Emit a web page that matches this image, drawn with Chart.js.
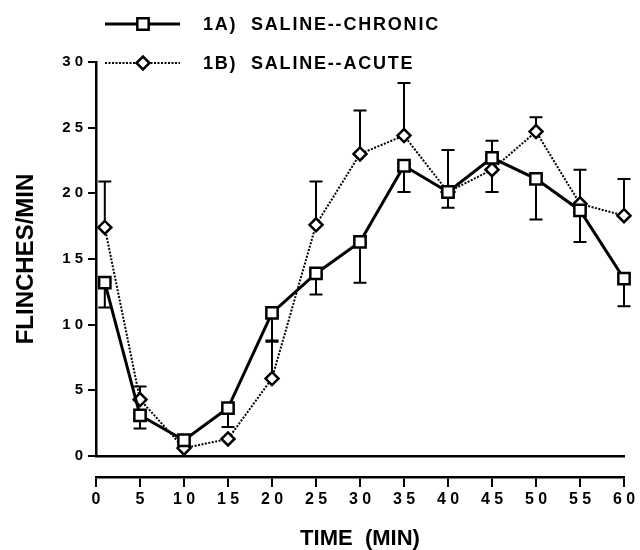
<!DOCTYPE html>
<html>
<head>
<meta charset="utf-8">
<script src="https://cdn.jsdelivr.net/npm/chart.js@4.4.1/dist/chart.umd.min.js"></script>
<style>
html, body { margin: 0; padding: 0; background: #fff; }
#myChartContainer { width: 640px; height: 550px; position: relative; }
</style>
</head>
<body>
<div id="myChartContainer"><canvas id="myChart"></canvas></div>
<script>
// time points (min)
var timeMin = [1, 5, 10, 15, 20, 25, 30, 35, 40, 45, 50, 55, 60];
// 1A) chronic - mean and where its error bar ends
var chronicVal = [13.2, 3.1, 1.2, 3.65, 10.9, 13.9, 16.3, 22.1, 20.1, 22.7, 21.1, 18.7, 13.5];
var chronicErr = [11.3, 2.1, null, 2.2, 8.7, 12.3, 13.2, 20.1, 23.3, 24.0, 18.0, 16.3, 11.4];
// 1B) acute
var acuteVal = [17.4, 4.3, 0.6, 1.3, 5.9, 17.6, 23.0, 24.4, 20.1, 21.8, 24.7, 19.2, 18.3];
var acuteErr = [20.9, 5.3, null, null, 8.8, 20.9, 26.3, 28.4, 18.9, 20.1, 25.8, 21.8, 21.1];
var seriesNames = ['1A)  SALINE--CHRONIC', '1B)  SALINE--ACUTE'];

var fontFamily = '"Liberation Sans", Arial, Helvetica, sans-serif';

function toPoints(vals){
	return timeMin.map(function(t, i){ return {x: t, y: vals[i]}; });
}
// digits spaced out like the original ("3 0")
function spacedLabel(v){
	return String(v).split('').join(' ');
}

// one-sided error bars with a cap
var errorBarPlugin = {
	id: 'errorBars',
	beforeDatasetsDraw: function(chart){
		var ctx = chart.ctx;
		var xs = chart.scales.x, ys = chart.scales.y;
		chart.data.datasets.forEach(function(ds){
			ctx.save();
			ctx.strokeStyle = '#000';
			ctx.lineWidth = 2;
			ds.errEnd.forEach(function(e, i){
				if(e == null) return;
				var px = xs.getPixelForValue(ds.data[i].x);
				var p0 = ys.getPixelForValue(ds.data[i].y);
				var p1 = ys.getPixelForValue(e);
				ctx.beginPath();
				ctx.moveTo(px, p0);
				ctx.lineTo(px, p1);
				ctx.moveTo(px - 6.5, p1);
				ctx.lineTo(px + 6.5, p1);
				ctx.stroke();
			});
			ctx.restore();
		});
	}
};

// legend: line sample with marker, two rows
var legendRows = {
	id: 'legendRows',
	afterDraw: function(chart){
		var ctx = chart.ctx;
		chart.data.datasets.forEach(function(ds, i){
			var y = 24 + i * 39;
			ctx.save();
			ctx.strokeStyle = '#000';
			ctx.lineWidth = ds.borderWidth;
			ctx.setLineDash(ds.borderDash || []);
			ctx.beginPath();
			ctx.moveTo(105, y);
			ctx.lineTo(180, y);
			ctx.stroke();
			ctx.setLineDash([]);
			ctx.fillStyle = '#fff';
			ctx.lineWidth = ds.pointBorderWidth;
			Chart.helpers.drawPoint(ctx, {pointStyle: ds.pointStyle, radius: ds.pointRadius, borderWidth: ds.pointBorderWidth, rotation: 0}, 143, y);
			ctx.fillStyle = '#000';
			ctx.font = 'bold 18px ' + fontFamily;
			ctx.letterSpacing = '1.8px';
			ctx.textBaseline = 'middle';
			ctx.textAlign = 'left';
			ctx.fillText(ds.label, 203, y + 1);
			ctx.restore();
		});
	}
};

var ctx = document.getElementById('myChart').getContext('2d');
var myChart = new Chart(ctx, {
	type: 'line',
	data: {
		datasets: [
			{
				label: seriesNames[0],
				data: toPoints(chronicVal),
				errEnd: chronicErr,
				borderColor: '#000',
				borderWidth: 3,
				pointStyle: 'rect',
				pointRadius: 8,
				pointBackgroundColor: '#fff',
				pointBorderColor: '#000',
				pointBorderWidth: 2.5,
				tension: 0,
				clip: false
			},
			{
				label: seriesNames[1],
				data: toPoints(acuteVal),
				errEnd: acuteErr,
				borderColor: '#000',
				borderWidth: 2,
				borderDash: [2, 1.5],
				pointStyle: 'rectRot',
				pointRadius: 6.5,
				pointBackgroundColor: '#fff',
				pointBorderColor: '#000',
				pointBorderWidth: 2.5,
				tension: 0,
				clip: false
			}
		]
	},
	options: {
		responsive: true,
		maintainAspectRatio: false,
		animation: false,
		layout: { padding: { top: 62, right: 16, bottom: 0, left: 0 } },
		plugins: {
			legend: { display: false },
			tooltip: { enabled: false }
		},
		scales: {
			// baseline at 0, sits on the plot
			x: {
				type: 'linear', position: 'bottom', min: 0, max: 60, weight: 0,
				grid: { display: false },
				ticks: { display: false },
				border: { display: true, color: '#000', width: 2.5 },
				afterFit: function(s){ s.height = 21; }
			},
			// detached time axis below
			x2: {
				type: 'linear', position: 'bottom', min: 0, max: 60, weight: 1,
				grid: { drawOnChartArea: false, color: '#000', lineWidth: 2, tickLength: 10 },
				border: { display: true, color: '#000', width: 2.5 },
				ticks: {
					stepSize: 5, color: '#000', padding: 3, maxRotation: 0, autoSkip: false,
					font: { family: fontFamily, size: 16, weight: 'bold' },
					callback: spacedLabel
				},
				title: {
					display: true, text: 'TIME  (MIN)', color: '#000',
					font: { family: fontFamily, size: 22, weight: 'bold', lineHeight: 1 },
					padding: { top: 14, bottom: 0 }
				},
				afterFit: function(s){ s.height = 73; }
			},
			y: {
				min: 0, max: 30,
				grid: { drawOnChartArea: false, color: '#000', lineWidth: 2, tickLength: 8 },
				border: { display: true, color: '#000', width: 2.5 },
				ticks: {
					stepSize: 5, color: '#000', padding: 5,
					font: { family: fontFamily, size: 15, weight: 'bold' },
					callback: spacedLabel
				},
				title: {
					display: true, text: 'FLINCHES/MIN', color: '#000',
					font: { family: fontFamily, size: 24, weight: 'bold' },
					padding: { top: 12, bottom: 0 }
				},
				afterFit: function(s){ s.width = 96; }
			}
		}
	},
	plugins: [errorBarPlugin, legendRows]
});
</script>
</body>
</html>
